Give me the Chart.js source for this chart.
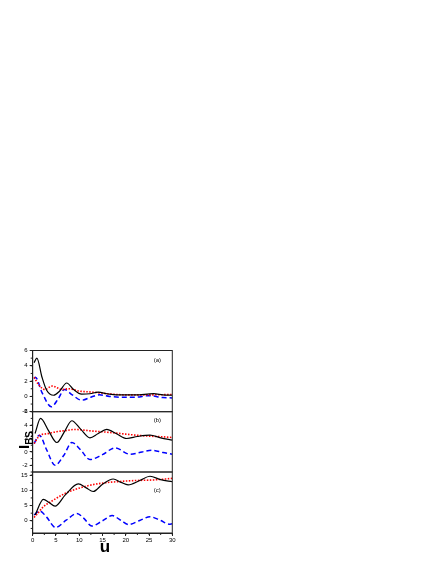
<!DOCTYPE html>
<html>
<head>
<meta charset="utf-8">
<script src="https://cdn.jsdelivr.net/npm/chart.js@4/dist/chart.umd.min.js"></script>
<style>
  body{margin:0;background:#fff;width:436px;height:564px;position:relative;overflow:hidden;font-family:"Liberation Sans",Arial,sans-serif}
  .panel{position:absolute;left:0;width:180px}
  #ytitle{position:absolute;left:25px;top:440px;transform:translate(-50%,-50%) rotate(-90deg);font-weight:bold;font-size:15px;white-space:nowrap}
  #ytitle sub{font-size:10px}
  #xtitle{position:absolute;left:105px;top:547px;transform:translate(-50%,-50%);font-weight:bold;font-size:17px}
</style>
</head>
<body>
<div class="panel" style="top:340px;height:80px"><canvas id="chartA"></canvas></div>
<div class="panel" style="top:400px;height:80px"><canvas id="chartB"></canvas></div>
<div class="panel" style="top:460px;height:100px"><canvas id="chartC"></canvas></div>
<div id="ytitle">I<sub>BS</sub></div>
<div id="xtitle">u</div>
<script>
// ---------------- datos ----------------
// panel (a)
var uNegroA = [0.3, 0.9, 2, 3, 4.5, 5.8, 7.3, 8.8, 10.5, 12.3, 14.1, 16, 18, 22, 26, 28, 30]
var negroA  = [4.4, 5.0, 2.5, 0.8, 0.15, 0.7, 1.75, 0.9, 0.3, 0.35, 0.55, 0.35, 0.2, 0.2, 0.35, 0.2, 0.15]
var uRojoA  = [0.3, 1.2, 2.6, 4.2, 6.3, 7.8, 10, 13, 17, 20, 25, 30]
var rojoA   = [2.5, 1.6, 0.9, 1.35, 0.9, 1.0, 0.7, 0.55, 0.3, 0.2, 0.2, 0.25]
var uAzulA  = [0.3, 0.6, 2, 4.0, 5.5, 6.8, 8.5, 10.5, 12.5, 14.3, 16.5, 19, 22, 25, 28, 30]
var azulA   = [2.3, 2.5, 0.5, -1.35, -0.3, 0.9, 0.2, -0.5, -0.1, 0.2, 0.0, -0.1, -0.1, 0.1, -0.15, -0.2]

// panel (b)
var uNegroB = [0.5, 1.7, 3.3, 5.2, 6.8, 8.4, 10.3, 12.3, 14, 15.9, 18, 20.2, 22.5, 25.2, 27.5, 30]
var negroB  = [2.75, 5.0, 3.3, 1.4, 3.0, 4.65, 3.4, 2.1, 2.7, 3.35, 2.7, 2.0, 2.3, 2.5, 2.1, 1.75]
var uRojoB  = [0.3, 1.6, 3, 5, 7.3, 9, 11, 13, 15, 18, 20, 23, 25, 28, 30]
var rojoB   = [1.25, 2.5, 2.7, 3.0, 3.2, 3.35, 3.25, 3.1, 3.0, 2.8, 2.65, 2.45, 2.35, 2.25, 2.15]
var uAzulB  = [0.3, 1.4, 3, 4.8, 6.7, 8.4, 10.3, 12.3, 15, 17.7, 20.9, 23.5, 25.6, 28, 30]
var azulB   = [1.25, 2.5, 0.3, -2.0, -0.5, 1.4, 0.3, -1.15, -0.4, 0.6, -0.35, 0.0, 0.25, -0.1, -0.35]

// panel (c)
var uNegroC = [0.5, 2.3, 3.5, 4.8, 7, 9.8, 11.5, 13.0, 15, 17.3, 19, 20.5, 23, 25.2, 27.5, 30]
var negroC  = [1.9, 7.0, 6.0, 4.8, 8.5, 12.1, 10.8, 9.6, 12.0, 13.7, 12.6, 11.8, 13.2, 14.6, 13.5, 12.8]
var uRojoC  = [0.3, 1, 2.3, 4.4, 7.3, 11.6, 15.2, 18.8, 22, 25.9, 30]
var rojoC   = [1.1, 2.3, 4.6, 6.75, 9.2, 11.4, 12.4, 12.9, 13.2, 13.4, 13.9]
var uAzulC  = [0.3, 1.5, 3, 4.9, 7.2, 9.5, 11, 12.7, 15, 17.1, 19, 20.6, 23, 25.2, 27.5, 29.3, 30]
var azulC   = [1.9, 3.2, 1.2, -2.2, 0.2, 2.4, 0.8, -1.7, 0.0, 1.7, 0.1, -1.2, 0.1, 1.3, 0.1, -1.1, -1.0]

// ticks
var ticksX  = [0, 5, 10, 15, 20, 25, 30]
var ticksYA = [-2, 0, 2, 4, 6]
var ticksYB = [-2, 0, 2, 4, 6]
var ticksYC = [0, 5, 10, 15]
var etiquetas = ['(a)', '(b)', '(c)']

//-------------------------------------------
function puntos(xs, ys){
  return xs.map(function(x, i){ return {x: x, y: ys[i]} })
}

function series(uN, n, uR, r, uA, a){
  return [
    { data: puntos(uN, n), borderColor: '#000', borderWidth: 1.2 },
    { data: puntos(uR, r), borderColor: '#ff0000', borderWidth: 1.6, borderDash: [1.5, 1.5] },
    { data: puntos(uA, a), borderColor: '#0000ff', borderWidth: 1.5, borderDash: [5, 3] }
  ]
}

// marco del panel + letra + ticks menores
var marco = {
  id: 'marco',
  afterDraw: function(chart){
    var c = chart.ctx, ca = chart.chartArea
    var o = chart.options.plugins.marco
    var sy = chart.scales.y, sx = chart.scales.x
    c.save()
    c.strokeStyle = '#222'
    c.lineWidth = 1
    c.strokeRect(ca.left, ca.top, ca.right - ca.left, ca.bottom - ca.top)
    // ticks menores eje y
    c.beginPath()
    for (var v = Math.ceil(sy.min / o.menorY) * o.menorY; v <= sy.max; v += o.menorY) {
      var py = sy.getPixelForValue(v)
      c.moveTo(ca.left - 2, py)
      c.lineTo(ca.left, py)
    }
    if (o.conX) {
      for (var u = 0; u <= 30; u += 2.5) {
        var px = sx.getPixelForValue(u)
        c.moveTo(px, ca.bottom)
        c.lineTo(px, ca.bottom + 2)
      }
    }
    c.stroke()
    c.fillStyle = '#000'
    c.font = '6px "Liberation Sans"'
    c.textAlign = 'center'
    c.textBaseline = 'middle'
    c.fillText(o.texto, ca.right - 15, ca.top + o.dy)
    c.restore()
  }
}

function crear(id, datos, minY, maxY, ticksY, menorY, conX, padTop, padBottom, texto, dy){
  var ctx = document.getElementById(id).getContext('2d')
  return new Chart(ctx, {
    type: 'line',
    data: { datasets: datos },
    options: {
      responsive: true,
      maintainAspectRatio: false,
      animation: false,
      layout: { padding: { left: 0, right: 7.7, top: padTop, bottom: padBottom } },
      elements: {
        point: { radius: 0 },
        line: { cubicInterpolationMode: 'monotone', fill: false }
      },
      plugins: {
        legend: { display: false },
        tooltip: { enabled: false },
        marco: { texto: texto, dy: dy, menorY: menorY, conX: conX }
      },
      scales: {
        x: {
          type: 'linear', min: 0, max: 30,
          display: conX,
          afterBuildTicks: function(s){ s.ticks = ticksX.map(function(v){ return {value: v} }) },
          afterFit: function(s){ s.height = conX ? 10 : 0 },
          grid: { drawOnChartArea: false, tickLength: 3, color: '#222' },
          border: { color: '#222' },
          ticks: { font: { size: 6, family: 'Liberation Sans' }, color: '#000', padding: 1, maxRotation: 0 }
        },
        y: {
          min: minY, max: maxY,
          afterBuildTicks: function(s){ s.ticks = ticksY.map(function(v){ return {value: v} }) },
          afterFit: function(s){ s.width = 32.7 },
          grid: { drawOnChartArea: false, tickLength: 3, color: '#222' },
          border: { color: '#222' },
          ticks: { font: { size: 6, family: 'Liberation Sans' }, color: '#000', padding: 2 }
        }
      }
    },
    plugins: [marco]
  })
}

crear('chartA', series(uNegroA, negroA, uRojoA, rojoA, uAzulA, azulA), -2, 6, ticksYA, 1, false, 10.5, 8.3, etiquetas[0], 10)
crear('chartB', series(uNegroB, negroB, uRojoB, rojoB, uAzulB, azulB), -3, 6, ticksYB, 1, false, 11.7, 8, etiquetas[1], 9)
crear('chartC', series(uNegroC, negroC, uRojoC, rojoC, uAzulC, azulC), -4, 16, ticksYC, 2.5, true, 12, 17, etiquetas[2], 18)
</script>
</body>
</html>
